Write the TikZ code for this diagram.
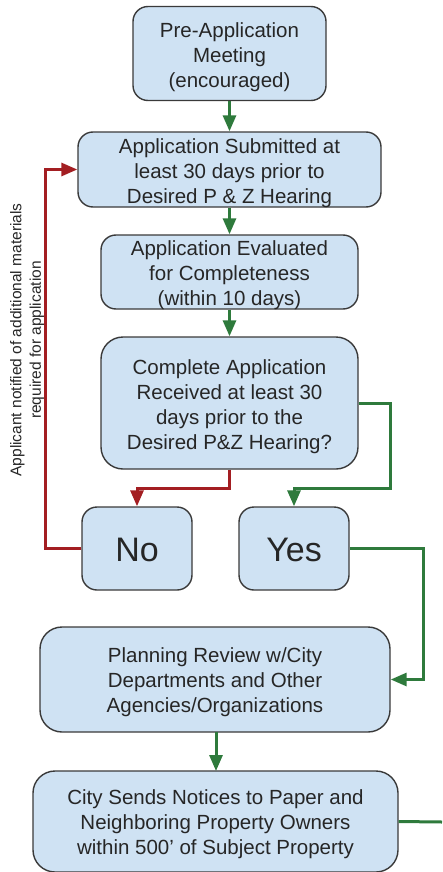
\documentclass[tikz,border=0pt]{standalone}
\usepackage{fontspec}
\setmainfont{Liberation Sans}
\usetikzlibrary{arrows.meta}
\definecolor{boxfill}{HTML}{CFE2F3}
\definecolor{boxdraw}{HTML}{3A3A3A}
\definecolor{txt}{HTML}{262626}
\definecolor{grn}{HTML}{2E7A3C}
\definecolor{rd}{HTML}{A31E22}
\tikzset{
  box/.style={draw=boxdraw, fill=boxfill, line width=1.4pt, rounded corners=15pt,
    inner sep=0pt},
  bigbox/.style={box, rounded corners=22pt},
  label text/.style={align=center, text=txt, inner sep=0pt,
    font=\fontsize{20.5}{25}\selectfont},
  yn text/.style={label text, font=\fontsize{34}{40}\selectfont},
  gline/.style={draw=grn, line width=3pt, -{Triangle[width=13pt,length=16pt]}},
  gplain/.style={draw=grn, line width=3pt},
  rline/.style={draw=rd, line width=3pt, -{Triangle[width=13pt,length=16pt]}},
  side/.style={text=txt, align=center, font=\fontsize{15.5}{19.5}\selectfont}
}
\begin{document}
\begin{tikzpicture}[x=1pt,y=1pt]
\useasboundingbox (0,0) rectangle (442,-872);
\node[box, minimum width=193pt, minimum height=94pt] (n1) at (229.5,-53.5) {};
\node[box, minimum width=303pt, minimum height=75pt] (n2) at (229.5,-169.5) {};
\node[box, minimum width=257pt, minimum height=74pt] (n3) at (229.5,-272) {};
\node[bigbox, minimum width=257pt, minimum height=132pt] (n4) at (229.5,-403) {};
\node[box, minimum width=110pt, minimum height=83pt] (no) at (137,-548.5) {};
\node[box, minimum width=110pt, minimum height=83pt] (yes) at (294,-548.5) {};
\node[bigbox, minimum width=350pt, minimum height=105pt] (n5) at (215,-679.5) {};
\node[bigbox, minimum width=365pt, minimum height=101pt] (n6) at (215.5,-821.5) {};

\node[label text] (t1) at ([yshift=-3.5pt]n1.center) {Pre-Application\\Meeting\\(encouraged)};
\node[label text] (t2) at ([yshift=-3.5pt]n2.center) {Application Submitted at\\least 30 days prior to\\Desired P \& Z Hearing};
\node[label text] (t3) at ([yshift=-3.5pt]n3.center) {Application Evaluated\\for Completeness\\(within 10 days)};
\node[label text] (t4) at ([yshift=-3.5pt]n4.center) {Complete Application\\Received at least 30\\days prior to the\\Desired P\&Z Hearing?};
\node[yn text] (tno) at ([yshift=-1pt]no.center) {No};
\node[yn text] (tyes) at ([yshift=-1pt]yes.center) {Yes};
\node[label text] (t5) at ([yshift=-3pt]n5.center) {Planning Review w/City\\Departments and Other\\Agencies/Organizations};
\node[label text] (t6) at ([yshift=-2.5pt]n6.center) {City Sends Notices to Paper and\\Neighboring Property Owners\\within 500’ of Subject Property};

\node[side, rotate=90] (lbl) at (27,-340)
  {Applicant notified of additional materials\\required for application};

\coordinate (g1) at (390,-488);
\coordinate (r0) at (229.5,-488);
\coordinate (r1) at (45,-169.5);
\coordinate (g2) at (423,-548.5);
\coordinate (g3) at (442,-822);
\coordinate (p1) at (216,-732);
\coordinate (p2) at (216,-771);

\draw[gline] (n1.south) -- (n2.north);
\draw[gline] (n2.south) -- (n3.north);
\draw[gline] (n3.south) -- (n4.north);
\draw[rline] (n4.south) -- (r0) -| (no.north);
\draw[gline] (n4.east) -| (g1) -| (yes.north);
\draw[rline] (no.west) -| (r1) -- (n2.west);
\draw[gline] (yes.east) -- (g2) |- (n5.east);
\draw[gline] (p1) -- (p2);
\draw[gplain] (n6.east) -- (g3);
\end{tikzpicture}
\end{document}
